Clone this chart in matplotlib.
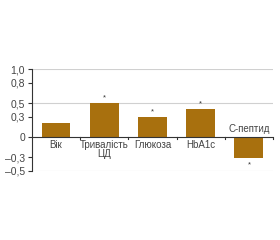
import matplotlib
matplotlib.use("Agg")
import matplotlib.pyplot as plt
import numpy as np

# ====================================
# DATOS
# ====================================

categorias = ["Вік", "Тривалість\nЦД", "Глюкоза", "HbA1c", "С-пептид"]
valores = [0.21, 0.50, 0.30, 0.41, -0.31]
significativo = [False, True, True, True, True]

yticks = [-0.5, -0.3, 0, 0.3, 0.5, 0.8, 1.0]
ytick_labels = ["–0,5", "–0,3", "0", "0,3", "0,5", "0,8", "1,0"]
grid_y = [-0.5, 0.5, 1.0]

color_barra = "#a8700e"
color_texto = "#444444"

plt.rcParams["font.family"] = ["Liberation Sans Narrow", "Liberation Sans", "DejaVu Sans"]

# ====================================
# GRÁFICA
# ====================================

fig = plt.figure(figsize=(2.8, 2.4), dpi=100)
ax = fig.add_axes([0.114, 0.2875, 0.861, 0.425])

x = np.arange(len(categorias))
ax.bar(x, valores, width=0.6, color=color_barra, zorder=2)

for g in grid_y:
    ax.axhline(g, color="#d0d0d0", linewidth=0.8, zorder=0)

ax.axhline(0, color="#333333", linewidth=0.8, zorder=3)

# limites entre categorias
for b in np.arange(0.5, len(categorias), 1.0):
    ax.plot([b, b], [0, -0.035], color="#333333", linewidth=0.8,
            zorder=3, clip_on=False)

# etiquetas y asteriscos
for i, v in enumerate(valores):
    if v >= 0:
        ax.text(x[i], -0.04, categorias[i], ha="center", va="top",
                fontsize=7, color=color_texto, linespacing=0.95)
        if significativo[i]:
            ax.text(x[i], v + 0.02, "*", ha="center", va="bottom",
                    fontsize=5.5, color="#333333")
    else:
        ax.text(x[i], 0.04, categorias[i], ha="center", va="bottom",
                fontsize=7, color=color_texto)
        if significativo[i]:
            ax.text(x[i], v - 0.05, "*", ha="center", va="top",
                    fontsize=5.5, color="#333333")

# ====================================
# ESTÉTICA
# ====================================

ax.set_xlim(-0.5, len(categorias) - 0.5)
ax.set_ylim(-0.5, 1.0)
ax.set_yticks(yticks)
ax.set_yticklabels(ytick_labels, fontsize=7.5, color=color_texto)
ax.set_xticks([])
ax.tick_params(axis="y", length=3, width=0.8, color="#333333", pad=2)

for s in ["top", "right", "bottom"]:
    ax.spines[s].set_visible(False)
ax.spines["left"].set_color("#333333")
ax.spines["left"].set_linewidth(0.8)

fig.savefig("out.png", dpi=100)
